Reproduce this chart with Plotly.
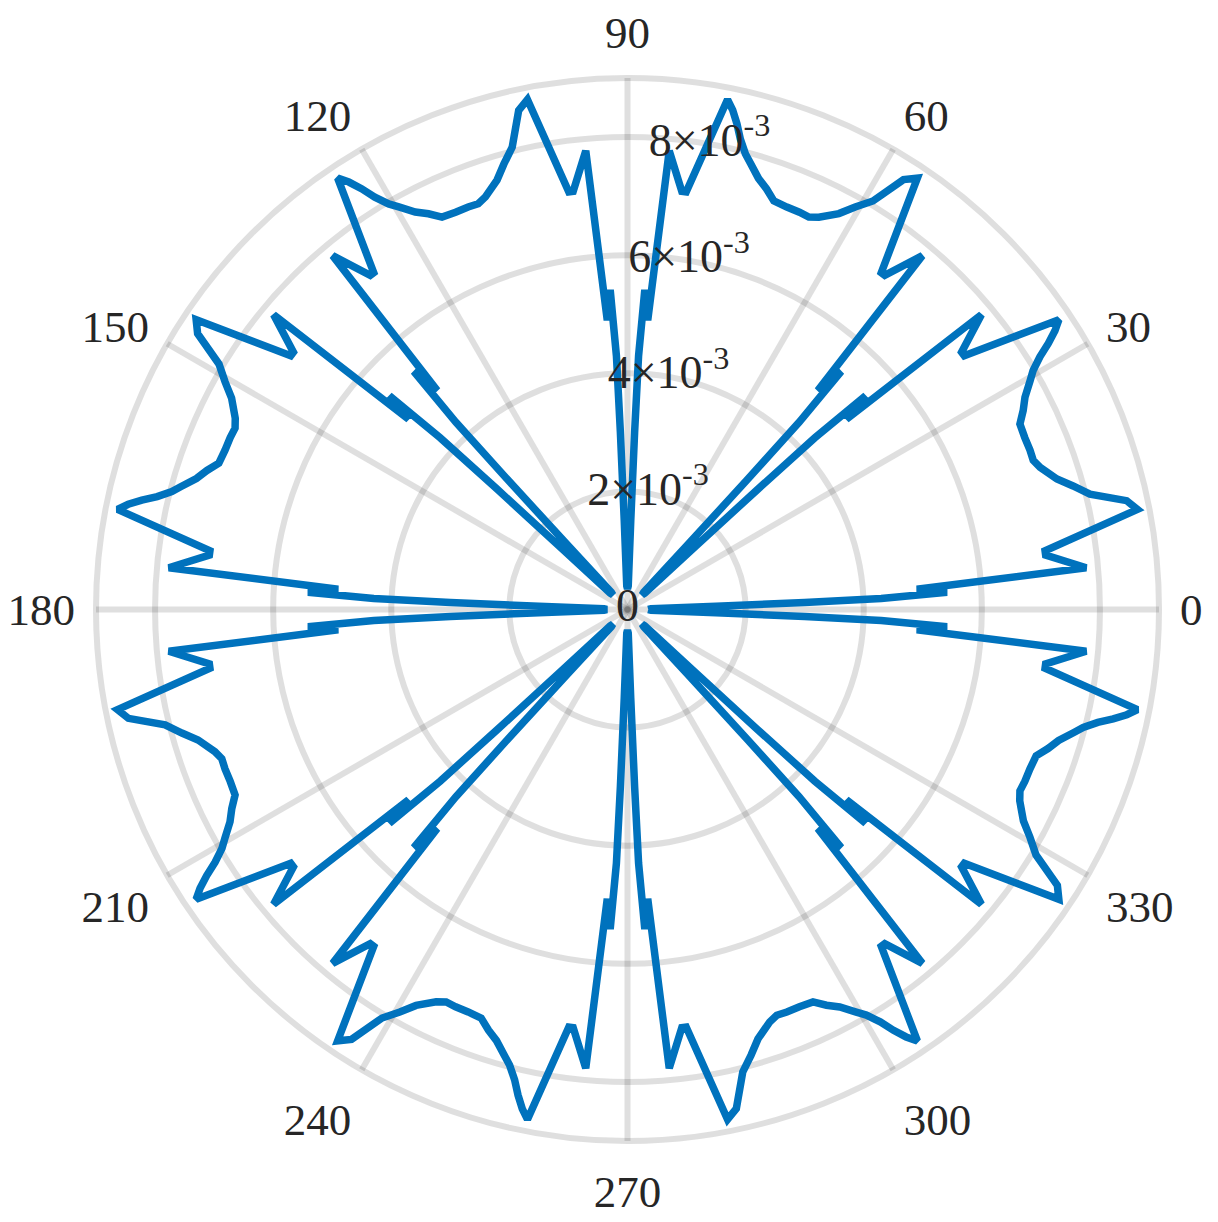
"""
Polar plot of an 8-fold symmetric directional pattern (MATLAB-style polarplot)
"""
import plotly.graph_objects as go

# one 45-degree sector (degrees, value in units of 1e-3);
# the pattern repeats every 45 degrees
SECTOR_THETA = [0.0, 1.8, 2.1, 2.3, 2.5, 3.1, 4.0, 5.2, 7.4, 8.0, 11.1,
                12.3, 14.0, 15.5, 16.9, 19.0, 20.2, 21.6, 23.4, 25.3, 26.7,
                28.1, 29.6, 30.5, 31.5, 32.3, 33.1, 33.9, 37.0, 37.6, 39.8,
                41.0, 41.9, 42.5, 42.7, 42.9, 43.2]
SECTOR_R = [0.35, 0.4, 1.5, 3.0, 4.3, 5.42, 4.91, 7.8, 7.14, 7.14, 8.8,
            8.65, 8.07, 7.83, 7.6, 7.39, 7.32, 7.33, 7.33, 7.35, 7.5,
            7.63, 7.84, 7.97, 8.19, 8.43, 8.64, 8.8, 7.14, 7.14, 7.8,
            4.91, 5.42, 4.3, 3.0, 1.5, 0.4]
SECTOR_COUNT = 8
SECTOR_SPAN = 45

R_SCALE = 1e-3
R_MAX = 9e-3
R_TICKS = [0.002, 0.004, 0.006, 0.008]
R_TICK_TEXT = ["2×10<sup>-3</sup>", "4×10<sup>-3</sup>",
               "6×10<sup>-3</sup>", "8×10<sup>-3</sup>"]
THETA_TICKS = list(range(0, 360, 30))

LINE_BLUE = "#0072BD"
GRID = "rgba(38,38,38,0.15)"
TEXT = "#262626"
FONT = "Liberation Serif, Times New Roman, serif"


def build_curve():
    """把一个扇区的数据按 45 度重复拼成整圈"""
    theta, r = [], []
    for k in range(SECTOR_COUNT):
        for t, v in zip(SECTOR_THETA, SECTOR_R):
            theta.append(t + SECTOR_SPAN * k)
            r.append(v * R_SCALE)
    # close the loop
    theta.append(theta[0] + 360)
    r.append(r[0])
    return theta, r


theta, r = build_curve()

fig = go.Figure()
fig.add_trace(go.Scatterpolar(
    r=r, theta=theta, mode="lines",
    line=dict(color=LINE_BLUE, width=7.5),
    hoverinfo="skip", showlegend=False,
))

# radial tick labels sit on the rings along 80 degrees, plus 0 at the origin
fig.add_trace(go.Scatterpolar(
    r=[0] + R_TICKS, theta=[0] + [80] * len(R_TICKS),
    mode="text", text=["0"] + R_TICK_TEXT,
    textposition="middle center",
    textfont=dict(family=FONT, size=46, color=TEXT),
    hoverinfo="skip", showlegend=False, cliponaxis=False,
))

# the page body adds an 8px offset, so the figure is a bit smaller than the window
fig.update_layout(
    width=1210, height=1214,
    paper_bgcolor="white",
    margin=dict(l=88, r=59, t=70, b=81),
    showlegend=False,
    polar=dict(
        bgcolor="white",
        domain=dict(x=[0, 1], y=[0, 1]),
        radialaxis=dict(
            range=[0, R_MAX], tickvals=R_TICKS, showticklabels=False,
            ticks="", showline=False, showgrid=True,
            gridcolor=GRID, gridwidth=6,
        ),
        angularaxis=dict(
            direction="counterclockwise", rotation=0,
            tickvals=THETA_TICKS, ticktext=[str(t) for t in THETA_TICKS],
            # invisible ticks just push the labels a little further out
            ticks="outside", ticklen=9, tickcolor="rgba(0,0,0,0)",
            showgrid=True, gridcolor=GRID, gridwidth=6,
            showline=True, linecolor=GRID, linewidth=6,
            tickfont=dict(family=FONT, size=45, color=TEXT),
        ),
    ),
)

fig.write_html("out.html")
